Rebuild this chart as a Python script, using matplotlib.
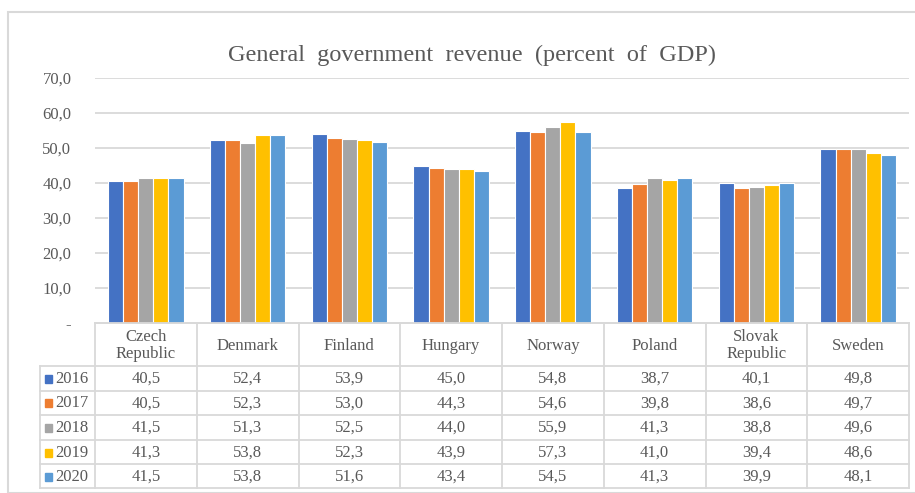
import numpy as np
import matplotlib.pyplot as plt
from matplotlib.patches import Rectangle

plt.rcParams['font.family'] = ['Liberation Serif', 'DejaVu Serif']

countries = ["Czech\nRepublic", "Denmark", "Finland", "Hungary", "Norway",
             "Poland", "Slovak\nRepublic", "Sweden"]
years = ["2016", "2017", "2018", "2019", "2020"]

rev_2016 = [40.5, 52.4, 53.9, 45.0, 54.8, 38.7, 40.1, 49.8]
rev_2017 = [40.5, 52.3, 53.0, 44.3, 54.6, 39.8, 38.6, 49.7]
rev_2018 = [41.5, 51.3, 52.5, 44.0, 55.9, 41.3, 38.8, 49.6]
rev_2019 = [41.3, 53.8, 52.3, 43.9, 57.3, 41.0, 39.4, 48.6]
rev_2020 = [41.5, 53.8, 51.6, 43.4, 54.5, 41.3, 39.9, 48.1]
series = [rev_2016, rev_2017, rev_2018, rev_2019, rev_2020]

colors = ["#4472c4", "#ed7d31", "#a5a5a5", "#ffc000", "#5b9bd5"]
text_col = "#595959"
line_col = "#d9d9d9"
fs = 12

W, H = 915, 493
fig = plt.figure(figsize=(W / 100, H / 100), dpi=100)

# outer chart border
fig.patches.append(Rectangle((8 / W, 0), 1, 1 - 12 / H, transform=fig.transFigure,
                             fill=False, edgecolor=line_col, linewidth=1.5))

left, right = 95, 909
y0, y70 = 323, 78
ax = fig.add_axes([left / W, 1 - y0 / H, (right - left) / W, (y0 - y70) / H])

n = len(countries)
x = np.arange(n)
bw = 0.148
for i, (vals, c) in enumerate(zip(series, colors)):
    ax.bar(x + (i - 2) * bw, vals, width=bw, color=c, edgecolor="white",
           linewidth=0.8, zorder=3, label=years[i])

ax.set_xlim(-0.5, n - 0.5)
ax.set_ylim(0, 70)
yt = np.arange(0, 71, 10)
ax.set_yticks(yt)
ax.set_yticklabels(["-"] + [f"{v:.1f}".replace(".", ",") for v in yt[1:]],
                   fontsize=fs, color=text_col)
ax.tick_params(axis="y", length=0, pad=17)
ax.set_xticks([])
ax.grid(axis="y", color=line_col, linewidth=1.3, zorder=0)
for s in ["top", "right", "left"]:
    ax.spines[s].set_visible(False)
ax.spines["bottom"].set_color(line_col)
ax.spines["bottom"].set_linewidth(1.3)

fig.text(472 / W, 1 - 55 / H, "General  government  revenue  (percent  of  GDP)",
         fontsize=17.5, color=text_col, ha="center", va="center")

# data table under the plot
tb_bottom = 488
tax = fig.add_axes([left / W, 1 - tb_bottom / H, (right - left) / W,
                    (tb_bottom - y0) / H])
tax.set_xlim(-0.5, n - 0.5)
tax.set_ylim(tb_bottom - y0, 0)
tax.axis("off")

rows = [0, 43, 67.6, 92.2, 116.8, 141.4, 165]
leg_x = -0.5 - 55 / ((right - left) / n)

lk = dict(color=line_col, linewidth=1.3, clip_on=False)
# horizontal lines
tax.plot([-0.5, n - 0.5], [rows[0], rows[0]], **lk)
for r in rows[1:]:
    tax.plot([leg_x, n - 0.5], [r, r], **lk)
# vertical lines
for k in range(n + 1):
    tax.plot([k - 0.5, k - 0.5], [rows[0], rows[-1]], **lk)
tax.plot([leg_x, leg_x], [rows[1], rows[-1]], **lk)

for j, name in enumerate(countries):
    tax.text(j, rows[1] / 2 + 1, name, ha="center", va="center", fontsize=fs,
             color=text_col, linespacing=1.15, clip_on=False)

for i, vals in enumerate(series):
    yc = (rows[i + 1] + rows[i + 2]) / 2 + 0.5
    tax.add_patch(Rectangle((leg_x + 0.05, yc - 4), 0.07, 8, color=colors[i],
                            clip_on=False))
    tax.text(leg_x + 0.15, yc, years[i], ha="left", va="center", fontsize=fs,
             color=text_col, clip_on=False)
    for j, v in enumerate(vals):
        tax.text(j, yc, f"{v:.1f}".replace(".", ","), ha="center", va="center",
                 fontsize=fs, color=text_col, clip_on=False)

fig.savefig("out.png", dpi=100)
